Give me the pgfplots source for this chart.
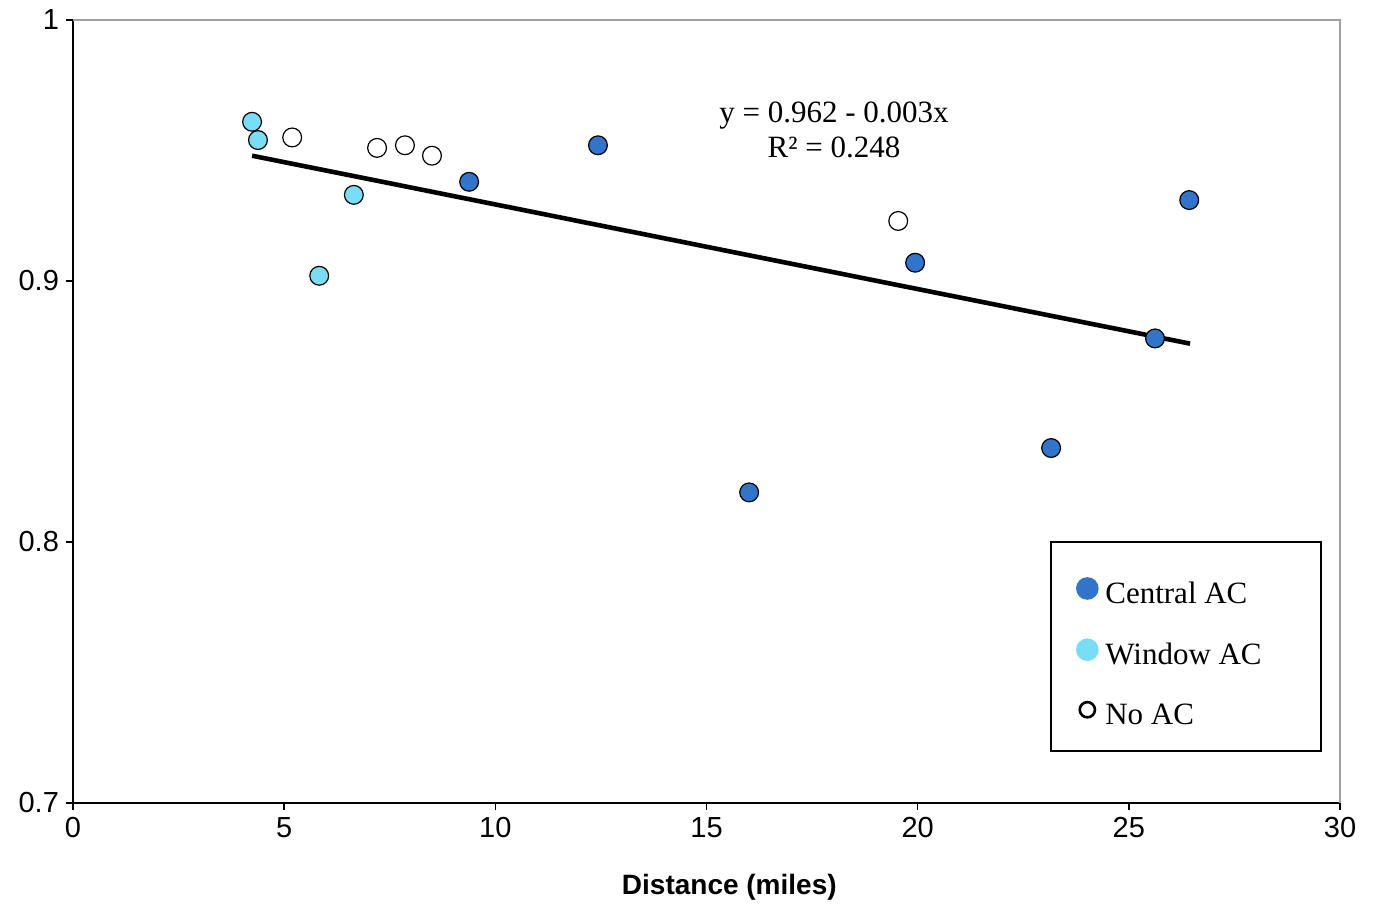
\documentclass[border=0pt]{standalone}
\usepackage{pgfplots}
\pgfplotsset{compat=1.18}
\usepackage{fontspec}
\setmainfont{Liberation Serif}
\newfontfamily\arial{Liberation Sans}
\definecolor{central}{HTML}{3174CA}
\definecolor{window}{HTML}{7ADDF5}

\begin{document}
\begin{tikzpicture}
\begin{axis}[
  scale only axis,
  width=633.5pt, height=391.5pt,
  xmin=0, xmax=30, ymin=0.7, ymax=1,
  xtick={0,5,...,30}, ytick={0.7,0.8,0.9,1},
  axis x line*=bottom, axis y line*=left,
  axis line style={-, line width=0.9pt},
  tick align=outside, major tick length=3.5pt,
  tick style={line width=0.8pt, black},
  ticklabel style={font=\arial\fontsize{14.5}{16}\selectfont},
  /pgf/number format/assume math mode=true,
  xlabel={\arial\bfseries\fontsize{14}{16}\selectfont Distance (miles)},
  xlabel style={at={(axis description cs:0.518,-0.107)}, anchor=center},
  clip=false,
  legend style={at={(rel axis cs:0.986,0.065)}, anchor=south east,
    draw=black, line width=0.9pt, font=\fontsize{15.5}{18}\selectfont,
    row sep=14pt, inner xsep=6pt, inner ysep=10pt},
  legend cell align=left,
]
% Central AC
\addplot[only marks, mark=*, mark size=4.7pt, draw=black, fill=central, line width=0.6pt, forget plot]
  coordinates {(9.38,0.938) (12.43,0.952) (16.01,0.819) (19.94,0.907) (23.16,0.836) (25.62,0.878) (26.43,0.931)};
% Window AC
\addplot[only marks, mark=*, mark size=4.7pt, draw=black, fill=window, line width=0.6pt, forget plot]
  coordinates {(4.24,0.961) (4.38,0.954) (5.83,0.902) (6.65,0.933)};
% No AC
\addplot[only marks, mark=*, mark size=4.7pt, draw=black, fill=white, line width=0.6pt, forget plot]
  coordinates {(5.19,0.955) (7.20,0.951) (7.86,0.952) (8.50,0.948) (19.54,0.923)};
% trend line
\addplot[black, line width=2.3pt, forget plot] coordinates {(4.24,0.948) (26.45,0.876)};

\addlegendimage{legend image code/.code={\path[draw=none] (0pt,-5pt) rectangle (19pt,16pt); \fill[central] (12pt,0.1cm) circle (5.2pt);}}
\addlegendentry{\makebox[100pt][l]{Central AC}}
\addlegendimage{legend image code/.code={\path[draw=none] (0pt,-5pt) rectangle (19pt,5pt); \fill[window] (12pt,0.1cm) circle (5.2pt);}}
\addlegendentry{\makebox[100pt][l]{Window AC}}
\addlegendimage{legend image code/.code={\path[draw=none] (0pt,-5pt) rectangle (19pt,5pt); \draw[black, line width=1.3pt] (12pt,0.1cm) circle (3.8pt);}}
\addlegendentry{\makebox[100pt][l]{No AC}}

\draw[gray!75, line width=1pt] (rel axis cs:0,1) -- (rel axis cs:1,1) -- (rel axis cs:1,0);
\node[align=center, font=\fontsize{15.5}{17.5}\selectfont] at (axis cs:18.02,0.958)
  {y = 0.962 - 0.003x\\R² = 0.248};
\end{axis}
\path ([shift={(-36.5pt,-51.5pt)}]current axis.south west) rectangle ([shift={(18pt,10pt)}]current axis.north east);
\end{tikzpicture}
\end{document}
